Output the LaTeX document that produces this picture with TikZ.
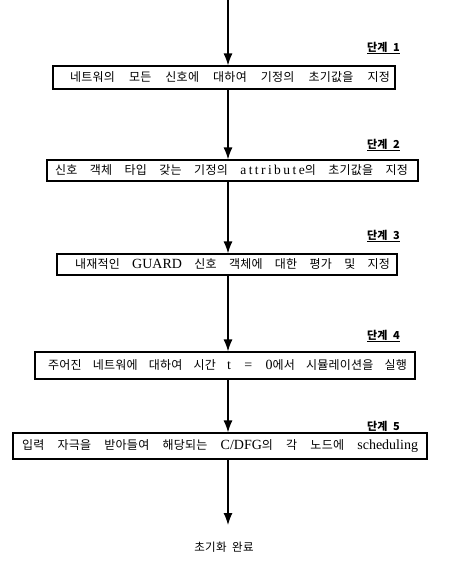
\documentclass[tikz,border=0pt]{standalone}
\usepackage{fontspec}
\setmainfont{Liberation Serif}
\newfontfamily\kr[LetterSpace=2]{Noto Sans CJK KR}
\newfontfamily\lat{Liberation Serif}
\newfontfamily\latsp[LetterSpace=18]{Liberation Serif}
\usetikzlibrary{arrows.meta}
\tikzset{
  flowbox/.style={draw, line width=1.2pt, inner sep=0pt, minimum height=#1, anchor=center},
  flowline/.style={line width=1.2pt, -{Latex[length=12pt,width=9pt]}},
  steplabel/.style={anchor=base east, inner sep=0pt, font=\kr\bfseries\fontsize{11}{12}\selectfont}
}
\newcommand{\boxtext}[4]{\makebox[#1pt][l]{\hspace{#2pt}\makebox[#3pt][s]{\kr\fontsize{12}{12}\selectfont #4}}}
\newcommand{\lw}[1]{{\lat\fontsize{14}{14}\selectfont #1}}
\begin{document}
\begin{tikzpicture}[x=1pt,y=-1pt]
\useasboundingbox (0,0) rectangle (455,565);
\node[flowbox=23pt] (b1) at (224,77.5) {\boxtext{342}{17}{320}{네트워의 모든 신호에 대하여 기정의 초기값을 지정}};
\node[flowbox=21pt] (b2) at (232.5,170.5) {\boxtext{371}{8}{353}{신호 객체 타입 갖는 기정의 {\latsp\fontsize{13.5}{14}\selectfont attribute}의 초기값을 지정}};
\node[flowbox=21pt] (b3) at (227,264.5) {\boxtext{340}{18}{315}{내재적인 \lw{GUARD} 신호 객체에 대한 평가 및 지정}};
\node[flowbox=27pt] (b4) at (225,365.5) {\boxtext{380}{13}{359}{주어진 네트워에 대하여 시간 \lw{t = 0}에서 시뮬레이션을 실행}};
\node[flowbox=26pt] (b5) at (220,446) {\boxtext{414}{9}{396}{입력 자극을 받아들여 해당되는 \lw{C/DFG}의 각 노드에 \lw{scheduling}}};
\node[steplabel] (l1) at (400,51) {\underline{단계\ \ 1}};
\node[steplabel] (l2) at (400,148) {\underline{단계\ \ 2}};
\node[steplabel] (l3) at (400,239) {\underline{단계\ \ 3}};
\node[steplabel] (l4) at (400,339) {\underline{단계\ \ 4}};
\node[steplabel] (l5) at (400,430) {\underline{단계\ \ 5}};
\node[font=\kr\fontsize{11.5}{12}\selectfont, inner sep=1pt] (end) at (224,547) {초기화\ \ 완료};
\coordinate (top) at (228,0);
\coordinate (tip) at (228,525);
\draw[flowline] (top) -- (b1.north -| top);
\draw[flowline] (b1.south -| top) -- (b2.north -| top);
\draw[flowline] (b2.south -| top) -- (b3.north -| top);
\draw[flowline] (b3.south -| top) -- (b4.north -| top);
\draw[flowline] (b4.south -| top) -- (b5.north -| top);
\draw[flowline] (b5.south -| top) -- (tip);
\end{tikzpicture}
\end{document}
